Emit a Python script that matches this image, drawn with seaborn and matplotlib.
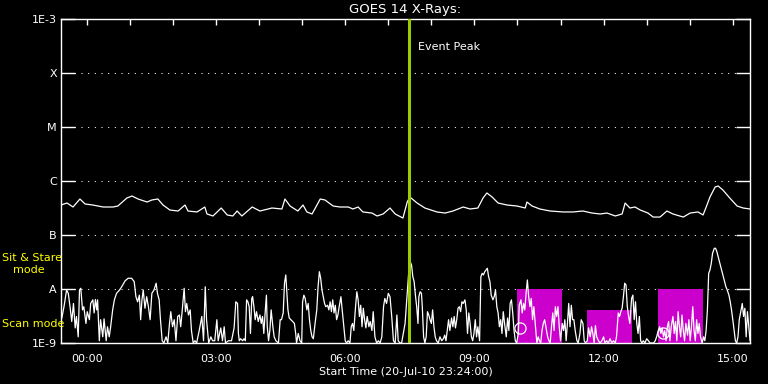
import numpy as np
import pandas as pd
import matplotlib
matplotlib.use('Agg')
import matplotlib.pyplot as plt
from matplotlib.ticker import NullLocator
import seaborn as sns

# GOES 14 X-ray flux, hours after start time (20-Jul-10 23:24:00)

# long channel (1-8 A), flux in units of 1e-7 W/m^2
long_hours = [0.00, 0.14, 0.28, 0.44, 0.56, 0.74, 0.98, 1.21, 1.32, 1.53, 1.65, 1.79, 2.00, 2.11,
              2.25, 2.37, 2.53, 2.72, 2.88, 2.95, 3.16, 3.34, 3.39, 3.53, 3.72, 3.86, 3.99, 4.09,
              4.20, 4.44, 4.62, 4.90, 5.13, 5.20, 5.32, 5.50, 5.62, 5.71, 5.83, 6.02, 6.13, 6.32,
              6.48, 6.67, 6.78, 6.90, 7.01, 7.22, 7.34, 7.48, 7.64, 7.76, 7.94, 8.04, 8.10, 8.27,
              8.45, 8.73, 8.92, 9.10, 9.34, 9.50, 9.68, 9.80, 9.89, 10.01, 10.15, 10.36, 10.59,
              10.78, 10.82, 10.94, 11.12, 11.36, 11.66, 11.89, 12.12, 12.33, 12.52, 12.68, 12.87,
              13.03, 13.10, 13.21, 13.33, 13.45, 13.63, 13.75, 13.91, 14.07, 14.21, 14.45, 14.61,
              14.79, 14.91, 15.00, 15.07, 15.19, 15.26, 15.37, 15.53, 15.70, 15.84, 16.00]
long_flux = [3.59, 3.91, 3.30, 4.64, 3.75, 3.59, 3.30, 3.30, 3.44, 4.84, 5.27, 4.64, 4.08, 4.45,
             4.64, 3.59, 2.90, 2.78, 3.59, 2.78, 2.67, 3.30, 2.45, 2.25, 3.16, 2.35, 2.25, 2.78,
             2.25, 3.30, 2.78, 3.16, 3.03, 4.64, 3.44, 2.78, 3.59, 2.67, 2.45, 4.64, 4.45, 3.44,
             3.30, 3.30, 3.03, 3.30, 2.67, 2.55, 2.25, 2.45, 3.16, 2.45, 2.06, 4.08, 5.06, 3.91,
             3.16, 2.67, 2.55, 2.78, 3.30, 3.03, 3.16, 4.84, 6.00, 5.06, 3.91, 3.59, 3.44,
             3.16, 4.08, 3.44, 3.03, 2.78, 2.67, 2.67, 2.78, 2.55, 2.45, 2.55, 2.25,
             2.45, 3.91, 3.16, 3.30, 2.90, 2.55, 2.15, 2.15, 2.78, 2.45, 2.15, 2.55,
             2.67, 2.35, 3.59, 5.06, 7.74, 8.07, 6.81, 4.84, 3.44, 3.16, 3.03]

# short channel (0.5-4 A), flux in units of 1e-9 W/m^2
short_hours = [0.00, 0.02, 0.07, 0.13, 0.17, 0.21, 0.25, 0.29, 0.33, 0.36, 0.40, 0.43, 0.46, 0.50,
               0.53, 0.58, 0.61, 0.66, 0.69, 0.74, 0.77, 0.80, 0.83, 0.85, 0.89, 0.92, 0.97, 1.00,
               1.05, 1.08, 1.12, 1.15, 1.20, 1.24, 1.29, 1.36, 1.41, 1.49, 1.56, 1.64, 1.70, 1.74,
               1.78, 1.82, 1.85, 1.88, 1.91, 1.95, 1.99, 2.03, 2.07, 2.11, 2.16, 2.21, 2.24, 2.28,
               2.31, 2.35, 2.39, 2.44, 2.48, 2.52, 2.55, 2.59, 2.63, 2.67, 2.71, 2.75, 2.78, 2.81,
               2.86, 2.89, 2.92, 2.96, 3.00, 3.03, 3.07, 3.11, 3.15, 3.21, 3.27, 3.31, 3.35, 3.38,
               3.43, 3.48, 3.52, 3.57, 3.62, 3.65, 3.71, 3.75, 3.79, 3.82, 3.89, 3.96, 4.02,
               4.06, 4.10, 4.12, 4.14, 4.17, 4.22, 4.25, 4.28, 4.31, 4.34, 4.37, 4.40, 4.43, 4.45,
               4.48, 4.51, 4.54, 4.58, 4.62, 4.65, 4.68, 4.71, 4.74, 4.77, 4.79, 4.82, 4.85, 4.88,
               4.92, 4.95, 4.99, 5.05, 5.09, 5.12, 5.16, 5.19, 5.22, 5.24, 5.27, 5.30, 5.34, 5.38,
               5.42, 5.45, 5.47, 5.51, 5.55, 5.59, 5.61, 5.64, 5.67, 5.71, 5.74, 5.77, 5.80, 5.83,
               5.86, 5.90, 5.94, 5.97, 6.00, 6.03, 6.06, 6.09, 6.12, 6.15, 6.19, 6.22, 6.25, 6.28,
               6.31, 6.34, 6.37, 6.40, 6.43, 6.46, 6.50, 6.53, 6.56, 6.60, 6.63, 6.67, 6.71, 6.74,
               6.77, 6.80, 6.84, 6.87, 6.90, 6.93, 6.96, 6.99, 7.02, 7.05, 7.08, 7.11, 7.15, 7.18,
               7.22, 7.25, 7.29, 7.33, 7.37, 7.41, 7.45, 7.49, 7.52, 7.56, 7.60, 7.64, 7.68, 7.72,
               7.76, 7.80, 7.83, 7.87, 7.91,
               7.95, 7.99, 8.03, 8.07, 8.11, 8.14, 8.17, 8.20, 8.23, 8.26, 8.29, 8.31, 8.34, 8.37,
               8.39, 8.42, 8.45, 8.48, 8.51, 8.54, 8.57, 8.60, 8.63, 8.66, 8.69, 8.72, 8.76, 8.80,
               8.84, 8.88, 8.91, 8.94, 8.97, 9.00, 9.03, 9.07, 9.10, 9.13, 9.16, 9.19, 9.22, 9.25,
               9.28, 9.31, 9.34, 9.38, 9.41, 9.44, 9.47, 9.50, 9.53, 9.56, 9.59, 9.62, 9.65, 9.68,
               9.72, 9.75, 9.78, 9.81, 9.84, 9.87, 9.90, 9.93, 9.96, 9.99, 10.03, 10.06, 10.09,
               10.12, 10.15, 10.18, 10.21, 10.24, 10.27, 10.30, 10.34, 10.37, 10.40, 10.43, 10.46,
               10.49, 10.52, 10.55, 10.58, 10.62, 10.64, 10.68, 10.71, 10.74, 10.77, 10.80, 10.83,
               10.86, 10.89, 10.92, 10.95, 10.98, 11.02, 11.05, 11.08, 11.11, 11.14, 11.17, 11.20,
               11.23, 11.26, 11.30, 11.33, 11.36, 11.39, 11.42, 11.45, 11.48, 11.51, 11.54, 11.57,
               11.60, 11.64, 11.67, 11.70, 11.73, 11.76, 11.79, 11.82, 11.85, 11.88,
               11.91, 11.94, 11.98, 12.01, 12.05, 12.08, 12.12, 12.15, 12.18, 12.22, 12.25, 12.29,
               12.32, 12.35, 12.38, 12.41, 12.44, 12.48, 12.52, 12.56, 12.60, 12.63, 12.67, 12.71,
               12.75, 12.79, 12.83, 12.87, 12.90, 12.94, 12.97, 13.00, 13.03, 13.06, 13.09, 13.12,
               13.15, 13.18, 13.21, 13.25, 13.28, 13.31, 13.34, 13.37, 13.40, 13.43, 13.46, 13.49,
               13.52, 13.56, 13.60, 13.64, 13.68, 13.72, 13.76, 13.80, 13.83, 13.87, 13.90, 13.93,
               13.96, 13.99, 14.02, 14.05, 14.08, 14.11, 14.14, 14.17, 14.21, 14.24, 14.27, 14.30,
               14.33, 14.36, 14.39, 14.42, 14.45, 14.48, 14.51, 14.55, 14.58, 14.61, 14.64, 14.67,
               14.70, 14.73, 14.76, 14.79, 14.82, 14.85, 14.89, 14.92, 14.95, 14.98, 15.01, 15.04,
               15.07, 15.10, 15.13, 15.17, 15.20, 15.23, 15.26, 15.29, 15.32, 15.35, 15.38, 15.41,
               15.44, 15.47, 15.51, 15.54, 15.57, 15.60, 15.63, 15.66, 15.69, 15.72, 15.75, 15.78,
               15.82, 15.85, 15.88, 15.91, 15.94, 15.97, 16.00]
short_flux = [2.7, 2.9, 4.7, 9.6, 8.3, 4.7, 2.5, 5.4, 1.9, 3.1, 1.3, 9.6, 10.3, 4.1,
              4.7, 2.3, 3.8, 2.7, 5.4, 6.3, 3.6, 6.4, 4.1, 6.3, 1.1, 2.7, 1.3, 2.8,
              1.1, 2.0, 1.3, 1.9, 4.1, 6.3, 8.3, 9.6, 11.0, 14.2, 15.8, 15.8, 13.7, 7.2,
              5.8, 7.7, 2.7, 6.3, 9.6, 4.4, 7.2, 4.7, 2.7, 8.3, 9.6, 12.8, 8.3, 6.3,
              2.7, 1.1, 1.0, 1.3, 1.0, 2.3, 3.8, 2.0, 2.7, 1.1, 3.1, 3.3, 2.0, 3.6,
              10.3, 3.8, 5.4, 3.3, 4.1, 1.7, 1.0, 1.1, 1.0, 1.7, 3.1, 1.1, 11.0, 2.7,
              1.0, 1.3, 1.1, 1.1, 2.7, 1.1, 1.9, 1.1, 2.0, 1.0, 1.1, 1.1, 1.9,
              5.8, 5.4, 1.5, 1.1, 1.2, 1.1, 1.2, 1.1, 6.3, 5.8, 4.7, 1.5, 6.7, 7.2,
              4.7, 2.7, 3.8, 2.5, 3.3, 2.3, 3.1, 1.5, 3.6, 7.7, 2.0, 1.1, 1.7, 4.1,
              2.0, 1.3, 1.1, 1.0, 2.7, 2.7, 3.6, 12.8, 18.2, 10.3, 4.1, 2.9, 2.7, 2.5,
              2.3, 1.5, 1.0, 1.5, 1.1, 1.0, 5.8, 7.7, 6.7, 4.1, 5.4, 2.7, 1.7, 1.3,
              1.2, 2.3, 4.1, 11.0, 20.9, 15.8, 9.6, 7.2, 5.4, 4.7, 5.0, 4.1, 5.8, 3.8,
              6.3, 3.6, 5.0, 2.7, 3.3, 4.7, 7.2, 4.1, 2.3, 1.1, 1.0, 1.1, 1.0, 2.0,
              2.3, 1.7, 4.7, 8.9, 6.3, 3.1, 5.0, 2.0, 4.4, 2.7, 1.9, 3.1, 2.0, 2.5,
              1.7, 3.8, 1.3, 1.0, 1.1, 1.0, 1.3, 4.7, 6.7, 5.4, 8.3, 7.2, 3.1, 1.1,
              1.0, 3.3, 1.1, 1.0, 1.0,
              1.5, 2.3, 6.3, 18.2, 32.0, 27.8, 16.9, 13.7, 7.7, 4.7, 2.3, 7.2, 8.9, 8.3,
              4.7, 1.3, 1.0, 1.3, 3.8, 3.3, 2.7, 2.3, 4.1, 2.0, 1.3, 1.1, 1.0, 1.3,
              1.1, 1.2, 1.4, 1.1, 1.7, 2.7, 1.7, 2.9, 2.0, 3.1, 1.9, 2.7, 4.4, 4.7,
              3.8, 5.8, 5.4, 6.3, 4.1, 1.5, 3.6, 2.3, 1.3, 1.1, 1.5, 2.7, 1.3, 2.0,
              1.1, 16.9, 19.5, 18.2, 20.9, 22.5, 24.2, 16.9, 13.7, 7.7, 6.3, 7.2, 9.6,
              4.7, 3.6, 2.0, 2.7, 1.5, 3.8, 2.3, 1.3, 2.9, 1.7, 5.4, 6.3,
              3.6, 1.7, 1.1, 1.0, 1.5, 5.0, 6.3, 3.6, 5.4, 4.1, 8.3, 14.7,
              7.2, 4.7, 6.7, 2.7, 4.7, 2.0, 1.0, 1.3, 1.1, 1.0, 1.7, 2.3,
              2.7, 2.0, 1.3, 1.1, 1.0, 2.0, 3.6, 1.7, 4.7, 3.1, 4.7, 2.0,
              1.1, 2.3, 1.7, 2.7, 1.1, 2.3, 5.4, 2.0, 5.0, 2.7,
              2.7, 1.7, 1.1, 1.0, 1.5, 2.7, 2.3, 1.1, 1.0, 1.1, 1.9, 1.3,
              2.0, 1.5, 1.0, 2.1, 1.3, 1.1, 1.0, 1.1, 1.3, 1.0, 1.1, 1.0,
              1.2, 1.0, 1.1, 1.0, 1.3, 3.6, 3.1, 3.8, 4.4, 7.2, 12.8, 11.9,
              4.7, 3.1, 2.3, 6.7, 7.7, 2.7, 5.8, 2.3, 1.5, 3.1, 1.1, 1.0,
              1.1, 1.0, 1.2, 1.1, 1.0, 1.0, 1.0, 1.1, 1.3, 1.7, 2.0, 1.5,
              1.9, 1.3, 1.7, 1.1, 2.0, 2.5, 1.1, 2.0, 3.1, 1.5, 2.5, 1.1,
              3.8, 2.0, 1.3, 3.3, 1.7, 1.1, 2.3, 1.4, 2.7, 1.1, 2.0, 4.7,
              1.7, 1.1, 2.7, 1.5, 2.3, 1.3, 1.0, 1.3, 1.1, 1.7, 4.1, 19.5,
              22.5, 29.9, 45.7, 56.7, 56.7, 49.1, 39.6, 32.0, 25.9, 20.9, 16.9, 13.7,
              11.0, 9.6, 7.7, 5.8, 4.1, 2.7, 1.7, 1.1, 1.0, 1.3, 2.7, 3.6,
              5.4, 3.1, 4.4, 1.3, 3.8, 2.0, 1.1]

# instrument scan-mode windows (hours after start), top of each box in W/m^2
scan_start = [10.59, 12.22, 13.86]
scan_end = [11.63, 13.26, 14.91]
scan_top = [1e-8, 4.1e-9, 1e-8]

# small open markers drawn inside the boxes
marker_hours = [10.66, 13.97]
marker_flux = [1.9e-9, 1.5e-9]

event_hour = 8.08
start_clock = 23.4  # 23:24
hour_labels = ['00:00', '03:00', '06:00', '09:00', '12:00', '15:00']
class_levels = [1e-9, 1e-8, 1e-7, 1e-6, 1e-5, 1e-4, 1e-3]
class_labels = ['1E-9', 'A', 'B', 'C', 'M', 'X', '1E-3']

long_df = pd.DataFrame({'hours': long_hours, 'flux': np.array(long_flux) * 1e-7})
short_df = pd.DataFrame({'hours': short_hours, 'flux': np.array(short_flux) * 1e-9})

sns.set_style('dark', {'axes.facecolor': 'black', 'figure.facecolor': 'black'})
plt.rcParams['font.family'] = ['DejaVu Sans']

fig, ax = plt.subplots(figsize=(7.68, 3.84), dpi=100)
fig.patch.set_facecolor('black')
ax.set_facecolor('black')
fig.subplots_adjust(left=0.0794, right=0.9766, bottom=0.1068, top=0.9505)

ax.set_yscale('log')

# scan boxes
for s, e, t in zip(scan_start, scan_end, scan_top):
    ax.bar(s, t - 1e-10, bottom=1e-10, width=e - s, align='edge', color='#cc00cc',
           linewidth=0, zorder=2)

sns.lineplot(data=long_df, x='hours', y='flux', ax=ax, color='white', lw=0.9,
             estimator=None, sort=False, zorder=3)
sns.lineplot(data=short_df, x='hours', y='flux', ax=ax, color='white', lw=0.9,
             estimator=None, sort=False, zorder=3)
ax.plot(marker_hours, marker_flux, ls='none', marker='o', ms=8, mfc='none',
        mec='white', mew=0.9, zorder=3)

ax.axvline(event_hour, color='#9acd00', lw=2.2, zorder=4)
ax.text(event_hour + 0.22, 3.0e-4, 'Event Peak', color='white', fontsize=8,
        ha='left', va='center')

ax.set_xlim(0, 16)
ax.set_ylim(1e-9, 1e-3)

# axes styling
for sp in ax.spines.values():
    sp.set_visible(True)
    sp.set_color('white')
    sp.set_linewidth(1)

ax.set_yticks(class_levels)
ax.set_yticklabels(class_labels)
ax.yaxis.set_minor_locator(NullLocator())
ax.tick_params(axis='y', which='major', direction='in', length=10, width=1,
               left=True, right=True, color='white', labelcolor='white',
               labelsize=8, pad=3)

first_tick = (24 - start_clock) % 24
major_x = [first_tick + 3 * i for i in range(len(hour_labels))]
minor_x = [first_tick + i for i in range(16)]
ax.set_xticks(major_x)
ax.set_xticklabels(hour_labels)
ax.set_xticks(minor_x, minor=True)
ax.tick_params(axis='x', which='both', direction='in', length=4.5, width=1,
               top=True, bottom=False, labelbottom=True, color='white',
               labelcolor='white', labelsize=8, pad=8)

ax.grid(False)
ax.yaxis.grid(True, which='major', color='white', linestyle=(0, (1, 5.4)), lw=0.75)
ax.set_axisbelow(True)

ax.set_xlabel('Start Time (20-Jul-10 23:24:00)', color='white', fontsize=8, labelpad=2)
ax.set_ylabel('')
fig.text(0.527, 0.976, 'GOES 14 X-Rays:', color='white', fontsize=9.5,
         ha='center', va='center')

fig.text(0.003, 1 - 258 / 384, 'Sit & Stare', color='yellow', fontsize=8,
         ha='left', va='center')
fig.text(0.017, 1 - 270 / 384, 'mode', color='yellow', fontsize=8,
         ha='left', va='center')
fig.text(0.003, 1 - 324 / 384, 'Scan mode', color='yellow', fontsize=8,
         ha='left', va='center')

fig.savefig('out.png', dpi=100, facecolor='black')
